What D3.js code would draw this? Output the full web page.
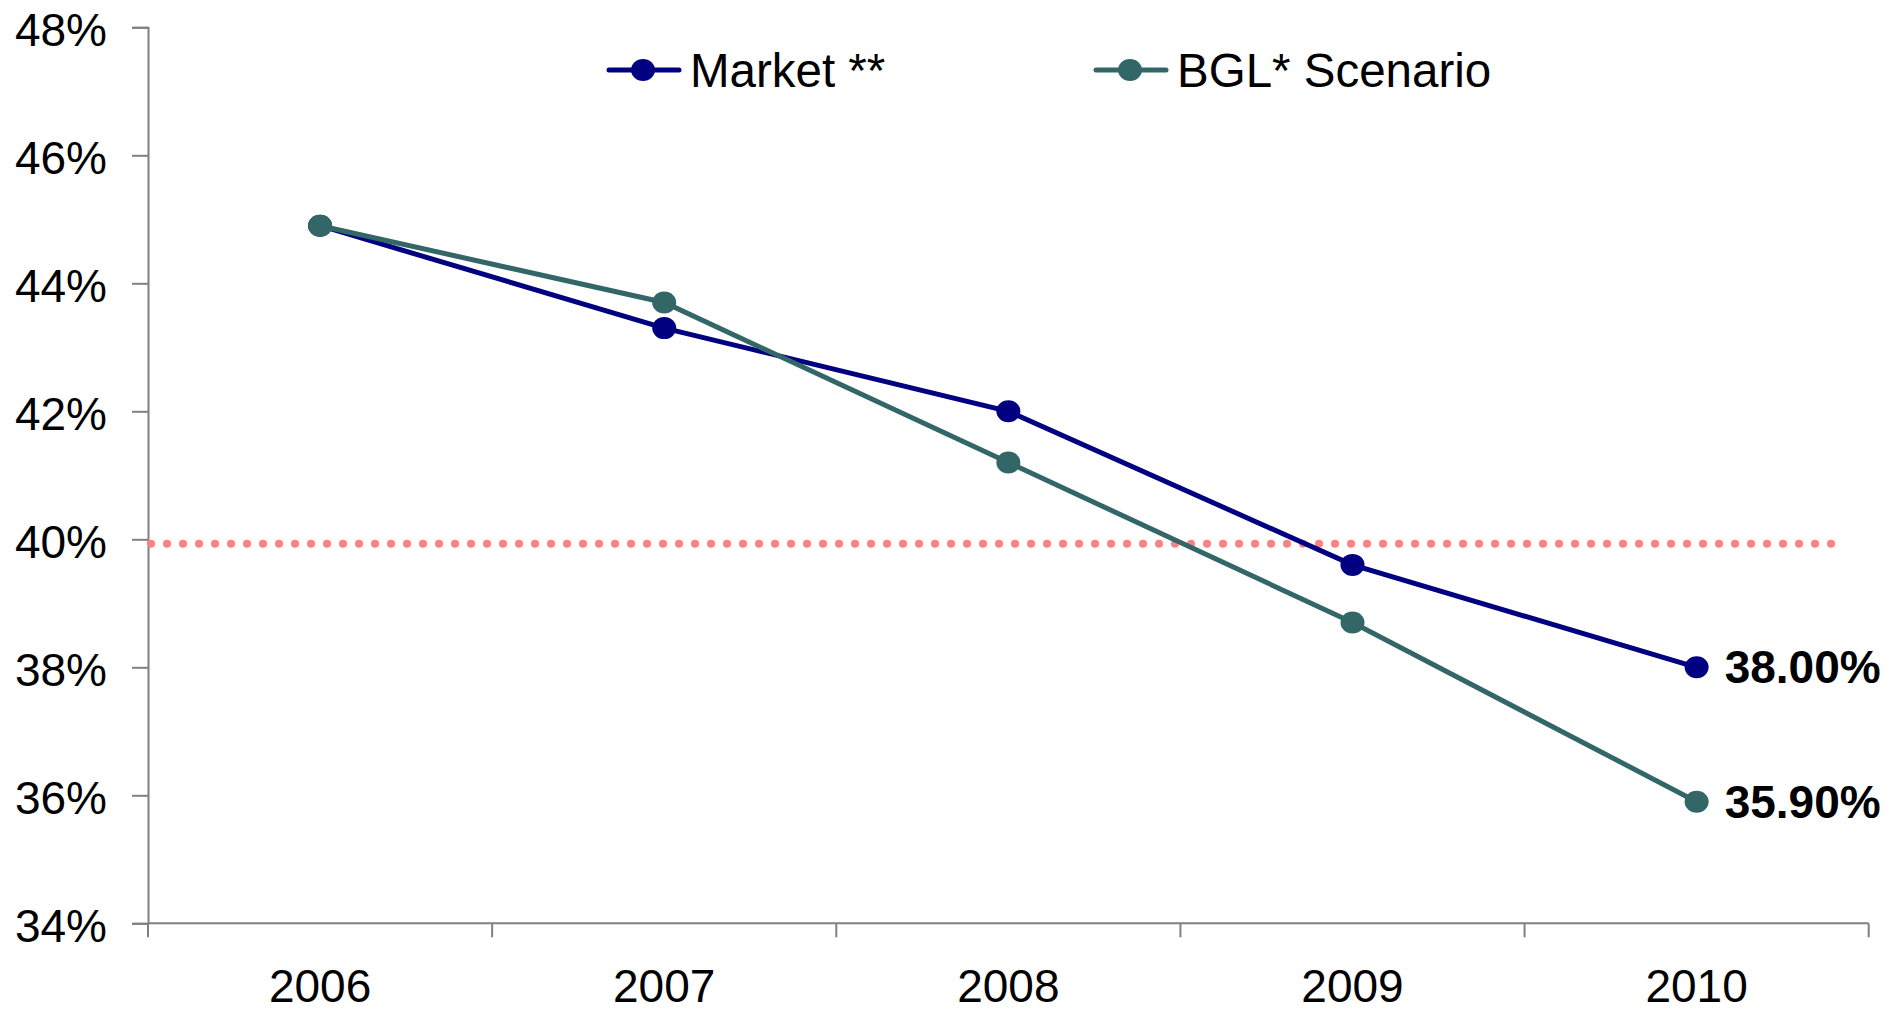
<!DOCTYPE html>
<html>
<head>
<meta charset="utf-8">
<script src="https://cdn.jsdelivr.net/npm/d3@7"></script>
<style>
  html, body { margin: 0; padding: 0; background: #fff; }
  svg { display: block; }
  text { font-family: "Liberation Sans", Arial, sans-serif; }
</style>
</head>
<body>
<svg id="chart" width="1889" height="1013"></svg>
<script>
const years = ["2006", "2007", "2008", "2009", "2010"];
const marketValues = [44.9, 43.3, 42.0, 39.6, 38.0];
const bglValues = [44.9, 43.7, 41.2, 38.7, 35.9];
const yTicks = [34, 36, 38, 40, 42, 44, 46, 48];
const referenceLevel = 39.93;
const seriesNames = ["Market **", "BGL* Scenario"];
const seriesColors = ["#000080", "#336666"];
const endLabels = ["38.00%", "35.90%"];

(function () {
const svg = d3.select("#chart");
const plotLeft = 148, plotRight = 1868.7, plotTop = 27.3, plotBottom = 923.3;

const x = d3.scaleBand().domain(years).range([plotLeft, plotRight]);
const y = d3.scaleLinear().domain([34, 48]).range([plotBottom, plotTop]);

const axisColor = "#808080";

// Y axis
const yAxis = d3.axisLeft(y).tickValues(yTicks).tickSize(16).tickFormat(d => d + "%");
const gy = svg.append("g").attr("transform", `translate(${plotLeft},0)`).call(yAxis);
gy.select(".domain").attr("stroke", axisColor).attr("stroke-width", 2);
gy.selectAll(".tick line").attr("stroke", axisColor).attr("stroke-width", 2);
gy.selectAll(".tick text")
  .attr("x", -41).attr("dy", null).attr("y", 18.5)
  .attr("font-size", 46).attr("fill", "#000")
  .style("font-family", "'Liberation Sans', Arial, sans-serif");

// X axis: ticks at category boundaries
const gx = svg.append("g").attr("transform", `translate(0,${plotBottom})`);
gx.append("line").attr("x1", plotLeft).attr("x2", plotRight).attr("y1", 0).attr("y2", 0)
  .attr("stroke", axisColor).attr("stroke-width", 2);
const boundaries = years.map(d => x(d)).concat([x(years[years.length - 1]) + x.bandwidth()]);
gx.selectAll("line.b").data(boundaries).enter().append("line").attr("class", "b")
  .attr("x1", d => d).attr("x2", d => d).attr("y1", 0).attr("y2", 14)
  .attr("stroke", axisColor).attr("stroke-width", 2);
gx.selectAll("text").data(years).enter().append("text")
  .attr("x", d => x(d) + x.bandwidth() / 2).attr("y", 79)
  .attr("text-anchor", "middle").attr("font-size", 46).attr("fill", "#000")
  .text(d => d);

// Reference dotted line
svg.append("line")
  .attr("x1", 151).attr("x2", 1832)
  .attr("y1", y(referenceLevel)).attr("y2", y(referenceLevel))
  .attr("stroke", "#FF8080").attr("stroke-width", 8)
  .attr("stroke-linecap", "round").attr("stroke-dasharray", "0 16");

const cx = d => x(d) + x.bandwidth() / 2;
const line = d3.line().x(d => cx(d.year)).y(d => y(d.v));

const series = [marketValues, bglValues];
series.forEach((vals, i) => {
  const data = years.map((yr, j) => ({ year: yr, v: vals[j] }));
  const g = svg.append("g");
  g.append("path").datum(data).attr("d", line)
    .attr("fill", "none").attr("stroke", seriesColors[i]).attr("stroke-width", 5);
  g.selectAll("ellipse").data(data).enter().append("ellipse")
    .attr("cx", d => cx(d.year)).attr("cy", d => y(d.v))
    .attr("rx", 12).attr("ry", 11).attr("fill", seriesColors[i]);
});

// End labels
series.forEach((vals, i) => {
  const last = years.length - 1;
  svg.append("text")
    .attr("x", cx(years[last]) + 28).attr("y", y(vals[last]) + 16)
    .attr("font-size", 46).attr("font-weight", "bold").attr("fill", "#000")
    .text(endLabels[i]);
});

// Legend
const legendX = [609, 1096];
seriesNames.forEach((name, i) => {
  const g = svg.append("g").attr("transform", `translate(${legendX[i]},70)`);
  g.append("line").attr("x1", 0).attr("x2", 70).attr("y1", 0).attr("y2", 0)
    .attr("stroke", seriesColors[i]).attr("stroke-width", 5).attr("stroke-linecap", "round");
  g.append("ellipse").attr("cx", 34).attr("cy", 0).attr("rx", 12).attr("ry", 11)
    .attr("fill", seriesColors[i]);
  g.append("text").attr("x", 81).attr("y", 17).attr("font-size", 47.5).attr("fill", "#000")
    .text(name);
});
})();
</script>
</body>
</html>
